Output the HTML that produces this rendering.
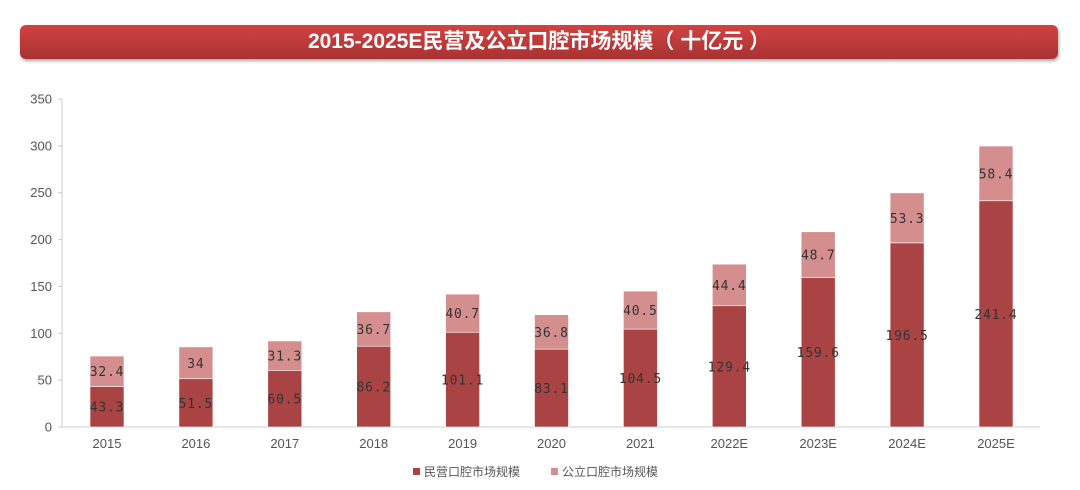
<!DOCTYPE html>
<html><head><meta charset="utf-8"><style>
body{margin:0;background:#fff;width:1080px;height:490px;overflow:hidden;font-family:"Liberation Sans","Noto Sans CJK SC",sans-serif}
.banner{position:absolute;left:20px;top:25px;width:1038px;height:34px;border-radius:6px;background:linear-gradient(#d24242,#a83232);box-shadow:1px 2px 3px rgba(0,0,0,.35);color:#fff;font-weight:bold;font-size:21px;text-align:center;line-height:34px}
</style></head><body>
<div class="banner">2015-2025E民营及公立口腔市场规模（ 十亿元 ）</div>
<svg width="1080" height="490" style="position:absolute;left:0;top:0">
<g id="c"></g>
</svg>
<script>
const y0=427,k=328/350;
const cats=["2015","2016","2017","2018","2019","2020","2021","2022E","2023E","2024E","2025E"];
const a=[43.3,51.5,60.5,86.2,101.1,83.1,104.5,129.4,159.6,196.5,241.4];
const b=[32.4,34,31.3,36.7,40.7,36.8,40.5,44.4,48.7,53.3,58.4];
let s='<line x1="62" y1="99" x2="62" y2="427" stroke="#ccc"/><line x1="62" y1="427" x2="1040" y2="427" stroke="#ccc"/>';
for(let v=0;v<=350;v+=50){let y=y0-v*k;s+=`<line x1="58" x2="62" y1="${y}" y2="${y}" stroke="#ccc"/><text x="52" y="${y+4.5}" text-anchor="end" font-size="13" fill="#555">${v}</text>`;}
cats.forEach((c,i)=>{const cx=107+i*88.9,x=cx-17,h1=a[i]*k,h2=b[i]*k;
s+=`<rect x="${x}" y="${y0-h1}" width="34" height="${h1}" fill="#aa4444" stroke="#fff" stroke-width="0.6"/>`;
s+=`<rect x="${x}" y="${y0-h1-h2}" width="34" height="${h2}" fill="#d48e8e" stroke="#fff" stroke-width="0.6"/>`;
s+=`<text x="${cx}" y="${y0-h1/2+5}" text-anchor="middle" font-size="13" fill="#333" letter-spacing="0.8" font-family="DejaVu Sans Mono,monospace">${a[i]}</text>`;
s+=`<text x="${cx}" y="${y0-h1-h2/2+5}" text-anchor="middle" font-size="13" fill="#333" letter-spacing="0.8" font-family="DejaVu Sans Mono,monospace">${b[i]}</text>`;
s+=`<text x="${cx}" y="448" text-anchor="middle" font-size="13" fill="#555">${c}</text>`;});
s+='<rect x="413" y="468" width="7" height="7" fill="#aa4444"/><text x="424" y="476" font-size="12" fill="#555">民营口腔市场规模</text>';
s+='<rect x="551" y="468" width="7" height="7" fill="#d48e8e"/><text x="562" y="476" font-size="12" fill="#555">公立口腔市场规模</text>';
document.getElementById('c').innerHTML=s;
</script>
</body></html>
